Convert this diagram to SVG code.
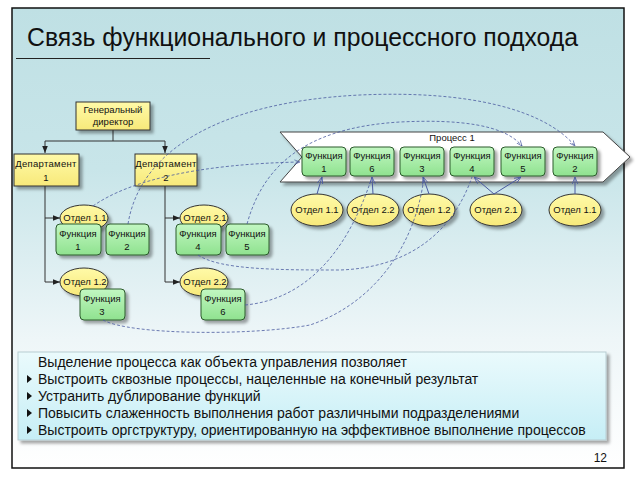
<svg xmlns="http://www.w3.org/2000/svg" width="638" height="479" viewBox="0 0 638 479">
<defs>
<linearGradient id="bg" x1="0" y1="0" x2="0" y2="1">
<stop offset="0" stop-color="#bfe0e4"/>
<stop offset="0.35" stop-color="#c8e5e9"/>
<stop offset="0.72" stop-color="#eef6f8"/>
<stop offset="1" stop-color="#ffffff"/>
</linearGradient>
<linearGradient id="box" x1="0" y1="0" x2="0" y2="1">
<stop offset="0" stop-color="#eafafc"/>
<stop offset="1" stop-color="#c6eef6"/>
</linearGradient>
<linearGradient id="fn" x1="0" y1="0" x2="0" y2="1">
<stop offset="0" stop-color="#c2f7c2"/>
<stop offset="1" stop-color="#8fe28f"/>
</linearGradient>
<linearGradient id="yl" x1="0" y1="0" x2="0" y2="1">
<stop offset="0" stop-color="#fffaa8"/>
<stop offset="1" stop-color="#f7e97a"/>
</linearGradient>
<filter id="sh" x="-20%" y="-20%" width="150%" height="160%">
<feDropShadow dx="3" dy="3" stdDeviation="1.5" flood-color="#000" flood-opacity="0.35"/>
</filter>
<marker id="ah" viewBox="0 0 10 10" refX="10" refY="5" markerWidth="7" markerHeight="7" orient="auto">
<path d="M0,1 L10,5 L0,9 z" fill="#222"/>
</marker>
<marker id="oa" viewBox="0 0 10 10" refX="10" refY="5" markerWidth="7" markerHeight="7" orient="auto">
<path d="M0,1 L10,5 L0,9" fill="none" stroke="#4a5aa0" stroke-width="1.2"/>
</marker>
</defs>
<style>
text{font-family:"Liberation Sans",Arial,sans-serif;fill:#111}
.t{font-size:9.5px;text-anchor:middle}
.yb{fill:url(#yl);stroke:#333;stroke-width:1;filter:url(#sh)}
.fb{fill:url(#fn);stroke:#2c5a2c;stroke-width:1;filter:url(#sh)}
.org{fill:none;stroke:#333;stroke-width:1}
.sol{fill:none;stroke:#4a5aa0;stroke-width:1;marker-end:url(#oa)}
.dsh{fill:none;stroke:#4a5aa0;stroke-width:0.8;stroke-dasharray:3 2}
.bt{font-size:14px}
.bl{fill:#111}
</style>
<rect x="0" y="0" width="638" height="479" fill="#fff"/>
<rect x="12" y="8" width="612" height="460" fill="url(#bg)" stroke="#111" stroke-width="1.5"/>
<text x="27" y="46" font-size="25" textLength="551" lengthAdjust="spacingAndGlyphs">Связь функционального и процессного подхода</text>
<line x1="16" y1="58.5" x2="210" y2="58.5" stroke="#222" stroke-width="1"/>

<g id="process">
<polygon points="280,132 603,132 630,157 603,182 280,182 302,157" fill="#fff" stroke="#444" stroke-width="1" filter="url(#sh)"/>
<text class="t" x="452" y="141">Процесс 1</text>
</g>

<g id="org-connectors">
<path class="org" d="M113,130 V141 M45,141 H165"/>
<path class="org" d="M45,141 V153" marker-end="url(#ah)"/>
<path class="org" d="M165,141 V153" marker-end="url(#ah)"/>
<path class="org" d="M45,186 V282"/>
<path class="org" d="M45,218 H60" marker-end="url(#ah)"/>
<path class="org" d="M45,282 H60" marker-end="url(#ah)"/>
<path class="org" d="M165,186 V282"/>
<path class="org" d="M165,218 H180" marker-end="url(#ah)"/>
<path class="org" d="M165,282 H180" marker-end="url(#ah)"/>
</g>

<g id="gd"><rect class="yb" x="76" y="102" width="74" height="28"/><text class="t" x="113" y="113">Генеральный</text><text class="t" x="113" y="125">директор</text></g>
<g id="dep1"><rect class="yb" x="14" y="154" width="65" height="32"/><text class="t" x="46" y="167" letter-spacing="0.3">Департамент</text><text class="t" x="46" y="181">1</text></g>
<g id="dep2"><rect class="yb" x="135" y="154" width="62" height="32"/><text class="t" x="166" y="167" letter-spacing="0.3">Департамент</text><text class="t" x="166" y="181">2</text></g>

<g id="otd11"><ellipse class="yb" cx="84" cy="218" rx="24" ry="13"/><text class="t" x="85" y="221">Отдел 1.1</text></g>
<g id="f1"><rect class="fb" x="56" y="224" width="45" height="31" rx="4"/><text class="t" x="78" y="237">Функция</text><text class="t" x="78" y="250">1</text></g>
<g id="f2"><rect class="fb" x="106" y="224" width="43" height="31" rx="4"/><text class="t" x="127" y="237">Функция</text><text class="t" x="127" y="250">2</text></g>
<g id="otd12"><ellipse class="yb" cx="84" cy="282" rx="24" ry="14"/><text class="t" x="85" y="285">Отдел 1.2</text></g>
<g id="f3"><rect class="fb" x="80" y="289" width="45" height="31" rx="4"/><text class="t" x="102" y="302">Функция</text><text class="t" x="102" y="315">3</text></g>
<g id="otd21"><ellipse class="yb" cx="204" cy="218" rx="24" ry="13"/><text class="t" x="205" y="221">Отдел 2.1</text></g>
<g id="f4"><rect class="fb" x="176" y="224" width="45" height="31" rx="4"/><text class="t" x="198" y="237">Функция</text><text class="t" x="198" y="250">4</text></g>
<g id="f5"><rect class="fb" x="226" y="224" width="43" height="31" rx="4"/><text class="t" x="247" y="237">Функция</text><text class="t" x="247" y="250">5</text></g>
<g id="otd22"><ellipse class="yb" cx="204" cy="282" rx="24" ry="14"/><text class="t" x="205" y="285">Отдел 2.2</text></g>
<g id="f6"><rect class="fb" x="201" y="289" width="44" height="31" rx="4"/><text class="t" x="223" y="302">Функция</text><text class="t" x="223" y="315">6</text></g>

<g id="pf1"><rect class="fb" x="302" y="147" width="44" height="29" rx="4"/><text class="t" x="324" y="159">Функция</text><text class="t" x="324" y="172">1</text></g>
<g id="pf6"><rect class="fb" x="350" y="147" width="44" height="29" rx="4"/><text class="t" x="372" y="159">Функция</text><text class="t" x="372" y="172">6</text></g>
<g id="pf3"><rect class="fb" x="400" y="147" width="44" height="29" rx="4"/><text class="t" x="422" y="159">Функция</text><text class="t" x="422" y="172">3</text></g>
<g id="pf4"><rect class="fb" x="450" y="147" width="44" height="29" rx="4"/><text class="t" x="472" y="159">Функция</text><text class="t" x="472" y="172">4</text></g>
<g id="pf5"><rect class="fb" x="501" y="147" width="44" height="29" rx="4"/><text class="t" x="523" y="159">Функция</text><text class="t" x="523" y="172">5</text></g>
<g id="pf2"><rect class="fb" x="553" y="147" width="44" height="29" rx="4"/><text class="t" x="575" y="159">Функция</text><text class="t" x="575" y="172">2</text></g>

<g id="po1"><ellipse class="yb" cx="317" cy="210" rx="26" ry="16"/><text class="t" x="317" y="213">Отдел 1.1</text></g>
<g id="po2"><ellipse class="yb" cx="373" cy="210" rx="26" ry="16"/><text class="t" x="373" y="213">Отдел 2.2</text></g>
<g id="po3"><ellipse class="yb" cx="429" cy="210" rx="26" ry="16"/><text class="t" x="429" y="213">Отдел 1.2</text></g>
<g id="po4"><ellipse class="yb" cx="496" cy="210" rx="26" ry="16"/><text class="t" x="496" y="213">Отдел 2.1</text></g>
<g id="po5"><ellipse class="yb" cx="575" cy="210" rx="26" ry="16"/><text class="t" x="575" y="213">Отдел 1.1</text></g>

<g id="connectors">
<path class="sol" d="M317,194 L322,177"/>
<path class="sol" d="M373,194 L372,177"/>
<path class="sol" d="M429,194 L423,177"/>
<path class="sol" d="M494,194 L474,177"/>
<path class="sol" d="M494,194 L521,177"/>
<path class="sol" d="M575,194 L575,177"/>
<path class="dsh" d="M93,206 C130,180 200,164 300,162" marker-end="url(#oa)"/>
<path class="dsh" d="M128,224 C140,150 220,102 360,95 C470,90 545,110 575,146" marker-end="url(#oa)"/>
<path class="dsh" d="M247,224 C262,170 300,128 400,122 C460,119 505,125 522,146" marker-end="url(#oa)"/>
<path class="dsh" d="M198,255 C220,270 280,270 340,270 C400,268 450,240 472,177"/>
<path class="dsh" d="M245,305 C300,300 345,260 372,177"/>
<path class="dsh" d="M103,320 C130,335 250,336 310,325 C370,305 415,250 424,177"/>
</g>

<g id="summary">
<rect x="18" y="352" width="588" height="88" fill="url(#box)" stroke="#b8cdd2" stroke-width="1" filter="url(#sh)"/>
<text class="bt" x="38" y="367">Выделение процесса как объекта управления позволяет</text>
<path class="bl" d="M27,375 L32,379 L27,383 z"/>
<text class="bt" x="38" y="384">Выстроить сквозные процессы, нацеленные на конечный результат</text>
<path class="bl" d="M27,392 L32,396 L27,400 z"/>
<text class="bt" x="38" y="401">Устранить дублирование функций</text>
<path class="bl" d="M27,409 L32,413 L27,417 z"/>
<text class="bt" x="38" y="418">Повысить слаженность выполнения работ различными подразделениями</text>
<path class="bl" d="M27,426 L32,430 L27,434 z"/>
<text class="bt" x="38" y="435">Выстроить оргструктуру, ориентированную на эффективное выполнение процессов</text>
</g>
<text x="607" y="462" font-size="12" text-anchor="end">12</text>
</svg>
